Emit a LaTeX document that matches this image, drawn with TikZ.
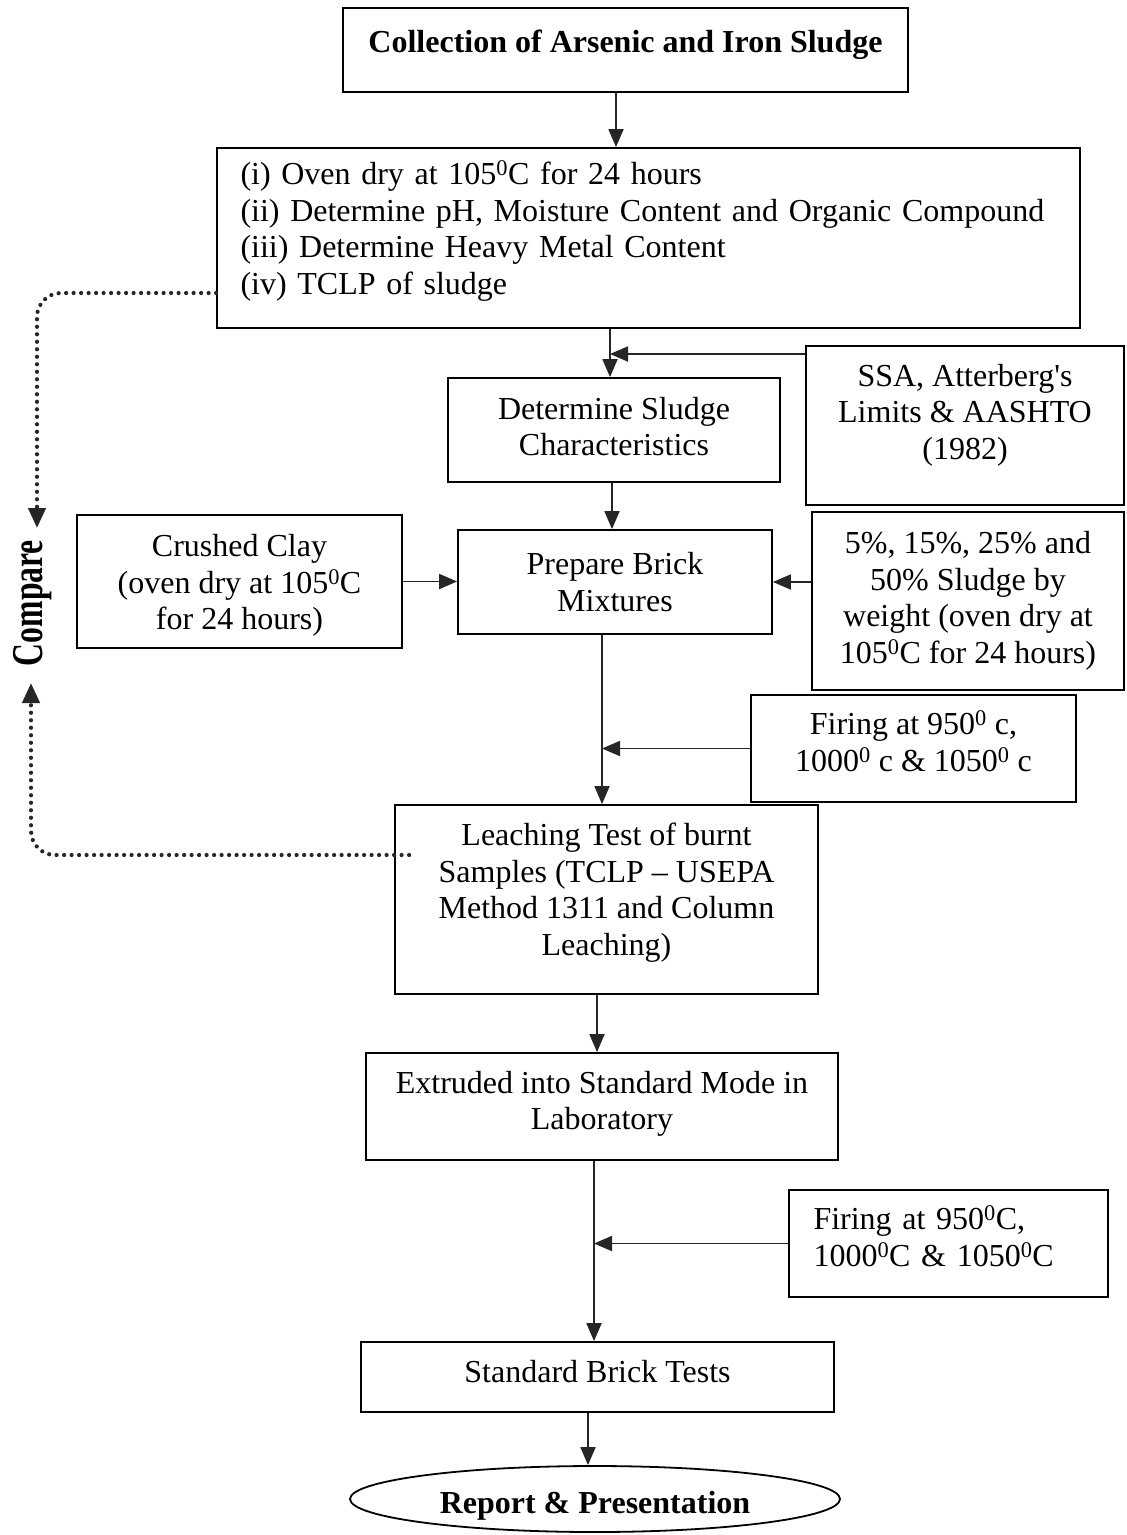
\documentclass[tikz,border=0pt]{standalone}
\usepackage{fontspec}
\setmainfont{Liberation Serif}
\usetikzlibrary{arrows.meta,shapes.geometric}
\newcommand{\dg}{\textsuperscript{0}}
\begin{document}
\begin{tikzpicture}[x=1pt,y=-1pt,
  box/.style={draw, line width=1.8pt, inner sep=0pt, align=center,
    font=\fontsize{32}{36.5}\selectfont},
  arr/.style={line width=1.8pt, draw=black!85, -{Triangle[length=18pt,width=15pt]}},
  dotline/.style={line width=4.2pt, dash pattern=on 0pt off 7.5pt, line cap=round,
    rounded corners=24pt, draw=black!85, -{Triangle[length=20pt,width=17pt]}}
]
\useasboundingbox (0,0) rectangle (1127,1535);
\fill[white] (0,0) rectangle (1127,1535);

% nodes
\node[box, minimum width=565pt, minimum height=84pt, font=\fontsize{32}{36.5}\selectfont\bfseries]
  (B1) at (625.5,50) {Collection of Arsenic and Iron Sludge\\[-18.5pt]};
\node[box, minimum width=863pt, minimum height=180pt, text width=816pt, align=left]
  (B2) at (648.5,238) {(i) Oven dry at 105\dg C for 24 hours\\
  (ii) Determine pH, Moisture Content and Organic Compound\\
  (iii) Determine Heavy Metal Content\\
  (iv) TCLP of sludge\\[-15.5pt]\mbox{}};
\node[box, minimum width=332pt, minimum height=104pt]
  (B3) at (614,430) {Determine Sludge\\Characteristics\\[-29.5pt]};
\node[box, minimum width=318pt, minimum height=159pt]
  (B4) at (965,425.5) {SSA, Atterberg\textquotesingle s\\Limits \& AASHTO\\(1982)\\[-8.5pt]};
\node[box, minimum width=325pt, minimum height=133pt]
  (B5) at (239.5,581.5) {Crushed Clay\\(oven dry at 105\dg C\\for 24 hours)\\[-38pt]};
\node[box, minimum width=314pt, minimum height=104pt]
  (B6) at (615,582) {Prepare Brick\\Mixtures};
\node[box, minimum width=312pt, minimum height=178pt]
  (B7) at (968,601) {5\%, 15\%, 25\% and\\50\% Sludge by\\weight (oven dry at\\105\dg C for 24 hours)};
\node[box, minimum width=325pt, minimum height=107pt]
  (B8) at (913.5,748.5) {Firing at 950\dg\ c,\\1000\dg\ c \& 1050\dg\ c\\[-21.5pt]};
\node[box, minimum width=423pt, minimum height=189pt]
  (B9) at (606.5,899.5) {Leaching Test of burnt\\Samples (TCLP -- USEPA\\Method 1311 and Column\\Leaching)\\[-15.5pt]};
\node[box, minimum width=472pt, minimum height=107pt]
  (B10) at (602,1106.5) {Extruded into Standard Mode in\\Laboratory\\[-24.5pt]};
\node[box, minimum width=319pt, minimum height=107pt, text width=270pt, align=left]
  (B11) at (948.5,1243.5) {Firing at 950\dg C,\\1000\dg C \& 1050\dg C\\[-21.5pt]\mbox{}};
\node[box, minimum width=473pt, minimum height=70pt]
  (B12) at (597.5,1377) {Standard Brick Tests\\[-24.5pt]};
\node[draw, ellipse, line width=1.8pt, inner sep=0pt, minimum width=490pt, minimum height=66pt,
  align=center, font=\fontsize{32}{36.5}\selectfont\bfseries]
  (E) at (595,1499) {Report \& Presentation\\[-43.5pt]};
\node[rotate=90, inner sep=0pt, font=\fontsize{44}{46}\selectfont\bfseries]
  (cmp) at (33,603) {\scalebox{0.72}[1]{Compare}};

% spine x-positions and side-arrow y-positions
\coordinate (xa) at (616,0);
\coordinate (xb) at (610,0);
\coordinate (xc) at (612,0);
\coordinate (xd) at (602,0);
\coordinate (xe) at (597,0);
\coordinate (xf) at (594,0);
\coordinate (xg) at (588,0);
\coordinate (ya) at (0,354);
\coordinate (yb) at (0,293);
\coordinate (yc) at (0,855);
\coordinate (ctop) at (37,528);
\coordinate (cbot) at (31,683);

% main flow
\draw[arr] (B1.south -| xa) -- (B2.north -| xa);
\draw[arr] (B2.south -| xb) -- (B3.north -| xb);
\draw[arr] (B4.west |- ya) -- (xb |- ya);
\draw[arr] (B3.south -| xc) -- (B6.north -| xc);
\draw[arr] (B5.east) -- (B6.west |- B5.east);
\draw[arr] (B7.west |- B6.east) -- (B6.east);
\draw[arr] (B6.south -| xd) -- (B9.north -| xd);
\draw[arr] (B8.west) -- (xd |- B8.west);
\draw[arr] (B9.south -| xe) -- (B10.north -| xe);
\draw[arr] (B10.south -| xf) -- (B12.north -| xf);
\draw[arr] (B11.west) -- (xf |- B11.west);
\draw[arr] (B12.south -| xg) -- (E.north -| xg);

% compare loops
\draw[dotline] (B2.west |- yb) -- (ctop |- yb) -- (ctop);
\draw[dotline] ([xshift=15pt]B9.west |- yc) -- (cbot |- yc) -- (cbot);
\end{tikzpicture}
\end{document}
